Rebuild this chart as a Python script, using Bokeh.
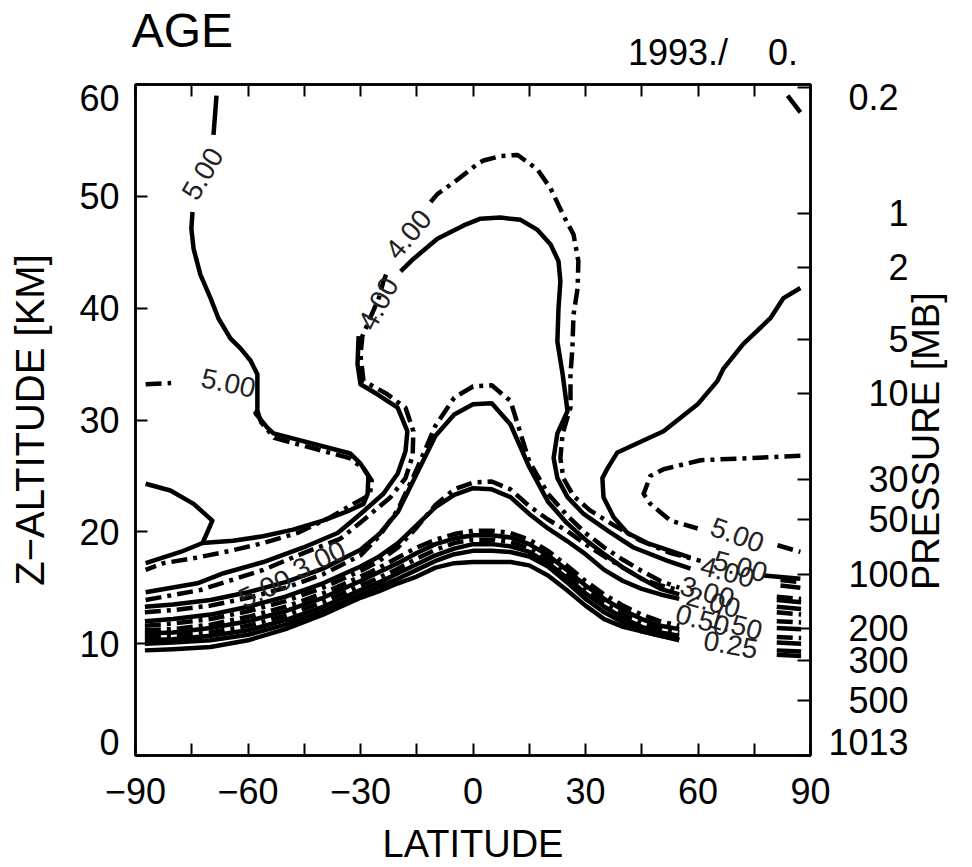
import math
from bokeh.plotting import figure
from bokeh.models import LinearAxis, FixedTicker, Range1d, ColumnDataSource
from bokeh.core.properties import value
from bokeh.embed import file_html
from bokeh.resources import INLINE

NaN = float("nan")
FONT = "Liberation Sans"
FIG_SPACE = "\u2007"
NBSP = "\u00a0"

# ---------------- axes / ticks ----------------
LAT_TICKS = list(range(-90, 91, 15))
LAT_LABELS = {-90: "−90", -60: "−60", -30: "−30", 0: "0", 30: "30", 60: "60", 90: "90"}
ALT_TICKS = [0, 10, 20, 30, 40, 50, 60]
P_LEVELS = [0.2, 1, 2, 5, 10, 30, 50, 100, 200, 300, 500, 1013]
P_LABELS = ["0.2", "1", "2", "5", "10", "30", "50", "100", "200", "300", "500", "1013"]
SCALE_HEIGHT = 7.0   # km
P_SURFACE = 1013.0   # mb
LABEL_INSET = 1.2    # km, end labels sit inside the frame height
TITLE = "AGE"
TITLE_LAT = -77.5
DATE = "1993./" + NBSP * 4 + "0."
DATE_LAT = 64.0
ALT_TITLE = "Z−ALTITUDE" + NBSP + "[KM]"
P_TITLE = "PRESSURE [MB]"
P_TITLE_START = 14.8   # km, where the (bottom-to-top) right title starts

# ---------------- contour lines (lat, km) ----------------
GRID_LAT = [-87.5, -80, -70, -60, -50, -40, -30, -25, -20, -15, -10, -5, 0, 5, 10,
            15, 20, 25, 30, 35, 40, 45, 50, 55, 65, 81, 87.5]
S3_ALT = [13.3, 13.5, 13.9, 14.6, 15.5, 16.7, 18.4, 19.8, 21.8, 25.2, 28.6, 30.5, 31.4, 31.5, 29.6,
          25.8, 22.7, 20.8, 19.3, 18.0, 16.8, 15.8, 14.9, 14.4, NaN, 13.9, 13.7]
D3_ALT = [12.8, 13.0, 13.4, 14.1, 15.0, 16.2, 17.9, 19.6, 22.0, 25.6, 29.5, 32.0, 33.0, 33.1, 31.7,
          26.3, 23.4, 21.5, 19.9, 18.6, 17.5, 16.5, 15.6, 15.0, NaN, 14.2, 14.0]
S2_ALT = [12.0, 12.2, 12.6, 13.3, 14.2, 15.4, 16.9, 17.8, 19.0, 20.6, 22.2, 23.3, 23.9, 23.8, 23.1,
          21.6, 20.3, 19.2, 18.0, 16.6, 15.6, 14.9, 14.4, 14.0, NaN, 13.3, 13.1]
D2_ALT = [11.6, 11.8, 12.2, 12.9, 13.8, 15.0, 16.5, 17.4, 18.6, 20.4, 22.4, 23.8, 24.4, 24.5, 23.8,
          22.3, 21.1, 20.1, 18.9, 17.8, 16.8, 15.8, 15.2, 14.8, NaN, 12.8, 12.6]
B1_ALT = [11.2, 11.3, 11.7, 12.4, 13.3, 14.5, 16.0, 16.8, 17.7, 18.6, 19.3, 19.8, 20.1, 20.1, 19.9,
          19.3, 18.3, 17.0, 15.6, 14.4, 13.4, 12.6, 12.0, 11.6, NaN, 12.0, 11.9]
B2_ALT = [10.9, 11.0, 11.4, 12.0, 12.9, 14.1, 15.6, 16.4, 17.2, 18.1, 18.9, 19.4, 19.7, 19.7, 19.5,
          18.9, 17.9, 16.6, 15.2, 14.0, 13.0, 12.2, 11.6, 11.3, NaN, 11.4, 11.3]
B3_ALT = [10.6, 10.7, 11.0, 11.6, 12.5, 13.7, 15.2, 15.9, 16.7, 17.6, 18.4, 19.0, 19.3, 19.3, 19.1,
          18.5, 17.5, 16.2, 14.8, 13.6, 12.6, 11.8, 11.3, 11.0, NaN, 10.6, 10.5]
B4_ALT = [10.3, 10.4, 10.7, 11.2, 12.1, 13.3, 14.8, 15.5, 16.3, 17.1, 17.9, 18.5, 18.9, 18.9, 18.7,
          18.2, 17.2, 15.9, 14.5, 13.3, 12.3, 11.5, 11.0, 10.7, NaN, 10.1, 10.0]
B5_ALT = [10.0, 10.1, 10.3, 10.8, 11.7, 12.9, 14.4, 15.1, 15.8, 16.6, 17.4, 18.0, 18.3, 18.3, 18.2,
          17.8, 16.9, 15.5, 14.0, 12.8, 11.9, 11.1, 10.7, 10.4, NaN, 9.4, 9.3]
B6_ALT = [9.4, 9.5, 9.7, 10.3, 11.3, 12.6, 14.1, 14.7, 15.4, 16.0, 16.8, 17.2, 17.3, 17.3, 17.3,
          17.0, 16.1, 14.8, 13.4, 12.2, 11.5, 11.1, 10.7, 10.3, NaN, 9.0, 8.9]

S5_LAT = [-68.4, -69.2, NaN, -74.8, -75.1, -74.5, -72.7, -70.0, -67.9, -64.7, -62.0, -59.3, -57.5,
          -57.5, -58.0, -54.8, -53.2, -32.7, -30.0, -27.9, -28.1, -29.2, -33.0, -40.0, -48.0,
          -56.0, -64.0, -72.1, -78.0, -87.3]
S5_ALT = [59.0, 55.5, NaN, 48.6, 47.1, 45.3, 43.0, 40.9, 39.1, 37.3, 36.4, 35.3, 34.1,
          30.8, 30.6, 29.3, 28.8, 27.0, 26.1, 25.0, 23.4, 22.5, 21.9, 21.0, 20.2,
          19.6, 19.2, 19.0, 18.2, 17.2]
TONGUE_LAT = [-87.3, -80.7, -74.5, -69.5, -72.1]
TONGUE_ALT = [24.3, 23.7, 22.5, 21.0, 19.0]
D5_LAT = [-87.3, -80.5, NaN, -57.5, -56.5, -53.0, -33.0, -29.0, -27.0, -27.5, -31.9, -38.0, -46.8,
          -55.9, -64.7, -73.5, -82.5, -87.3]
D5_ALT = [33.2, 33.3, NaN, 30.8, 29.8, 28.4, 26.6, 25.6, 24.6, 23.3, 22.5, 21.3, 19.9,
          19.0, 18.3, 17.7, 17.2, 16.6]
S4_LAT = [-87.3, -73.5, -66.5, -55.9, -45.2, -36.1, -30.0, -23.9, -20.1, -18.0, -17.5, -20.1, -25.5,
          -30.0, -30.8, -30.5, NaN, -19.3, -15.9, -9.5, -2.5, 2.0, 7.3, 12.7, 17.2, 20.7, 22.8,
          23.3, 22.8, 22.5, 23.9, 25.2, 22.5, 21.5, 22.5, 25.2, 29.5, 35.9, 42.8, 51.9, 58.0, NaN,
          82.0, 87.3]
S4_ALT = [14.6, 15.4, 16.3, 17.3, 18.6, 19.9, 21.6, 23.4, 25.2, 27.2, 29.0, 31.1, 32.3,
          33.2, 35.0, 37.5, NaN, 43.3, 44.4, 46.2, 47.4, 48.0, 48.1, 47.9, 47.0, 45.7, 44.2,
          42.4, 40.0, 37.0, 34.1, 30.8, 28.8, 26.6, 24.8, 23.1, 21.6, 20.1, 18.6, 17.4, 16.7, NaN,
          15.2, 15.0]
D4_LAT = [-87.3, -72.7, -55.9, -45.2, -35.3, -28.7, -22.0, -18.0, -16.1, -15.9, -18.0, -23.3, -29.2,
          -30.0, -29.5, -25.0, -23.9, -22.8, NaN, -11.3, -9.5, -4.1, 1.2, 2.8, 7.3, 11.9, 17.2,
          20.7, 24.1, 26.8, 28.1, 27.9, 26.8, 26.5, 26.0, 26.0, 23.9, 23.3, 24.1, 26.8, 31.3,
          37.5, 44.7, 52.7, 60.7, NaN, 82.0, 87.3]
D4_ALT = [13.9, 14.8, 16.6, 18.1, 19.4, 21.2, 23.1, 24.8, 26.8, 29.0, 31.1, 32.4, 33.5,
          35.8, 37.5, 41.0, 42.4, 43.3, NaN, 49.5, 50.2, 51.5, 52.9, 53.2, 53.6, 53.7, 52.4,
          50.7, 48.3, 46.6, 44.2, 41.8, 39.4, 36.4, 34.1, 31.1, 28.8, 26.6, 24.8, 23.2, 21.9,
          20.6, 19.2, 18.1, 17.4, NaN, 15.7, 15.5]
S5N_LAT = [87.3, 82.8, 79.3, 72.1, 66.8, 65.2, 59.9, 50.8, 38.5, 35.9, 34.5, 34.8, 37.5, 41.2, 46.5,
           58.0, NaN, 77.5, 87.3]
S5N_ALT = [41.8, 40.9, 39.1, 36.8, 34.6, 33.5, 31.4, 29.0, 27.1, 25.7, 24.8, 23.1, 21.3, 19.9, 19.0,
           17.7, NaN, 16.1, 15.8]
D5N_LAT = [87.3, 74.0, 60.7, 50.8, 47.3, 45.5, 47.3, 52.7, 59.9, NaN, 81.2, 87.3]
D5N_ALT = [26.8, 26.6, 26.4, 25.6, 25.0, 23.4, 22.5, 21.0, 20.3, NaN, 18.8, 18.2]
TOP_LAT = [83.9, 87.3]
TOP_ALT = [59.0, 57.5]

CL_TEXT = ["5.00", "4.00", "4.00", "5.00", "5.00", "4.00", "5.00", "3.00", "2.00", "1.50", "0.50",
           "0.25", "5.00", "3.00"]
CL_LAT = [-72.1, -17.2, -25.2, -65.2, 70.5, 67.9, 71.3, 62.5, 64.1, 70.0, 61.2, 68.7, -55.5, -41.0]
CL_ALT = [52.0, 46.6, 40.4, 33.3, 19.7, 16.4, 16.9, 14.6, 13.7, 11.7, 12.1, 9.9, 14.9, 17.5]
CL_ANGLE = [60, 50, 62, -12, -20, -15, -15, -15, -15, -15, -15, -10, 25, 25]

# ---------------- figure ----------------
p = figure(width=972, height=867, x_range=Range1d(-90, 90), y_range=Range1d(0, 60),
           output_backend="svg", toolbar_location=None, title=None,
           min_border_left=135, min_border_right=162, min_border_top=82, min_border_bottom=111)
p.grid.visible = False
p.outline_line_color = "black"
p.outline_line_width = 2.5

TICK_FONT = "36px"


def style_axis(ax, size=TICK_FONT):
    ax.major_tick_in = 12
    ax.major_tick_out = 0
    ax.minor_tick_line_color = None
    ax.major_tick_line_width = 2
    ax.major_tick_line_color = "black"
    ax.axis_line_width = 2.5
    ax.axis_line_color = "black"
    ax.major_label_text_font = FONT
    ax.major_label_text_font_size = size
    ax.major_label_text_color = "black"
    ax.axis_label_text_font = FONT
    ax.axis_label_text_font_size = "38px"
    ax.axis_label_text_font_style = "normal"
    ax.axis_label_text_color = "black"


def label_only(ax):
    ax.major_tick_line_color = None
    ax.minor_tick_line_color = None
    ax.axis_line_color = None


def ticks_only(ax):
    ax.major_label_text_font_size = "0px"
    ax.major_label_standoff = 0


# bottom: latitude
xa = p.xaxis[0]
xa.ticker = FixedTicker(ticks=LAT_TICKS)
xa.major_label_overrides = {t: LAT_LABELS.get(t, "") for t in LAT_TICKS}
xa.axis_label = "LATITUDE"
style_axis(xa)
xa.major_label_standoff = 22
xa.axis_label_standoff = 16

# left: altitude tick marks, then labels (end labels kept inside the frame height) + title
ya = p.yaxis[0]
ya.ticker = FixedTicker(ticks=ALT_TICKS)
ya.major_label_overrides = {t: "" for t in ALT_TICKS}
style_axis(ya)
ticks_only(ya)

alt_lab_pos = [min(max(t, ALT_TICKS[0] + LABEL_INSET), ALT_TICKS[-1] - LABEL_INSET) for t in ALT_TICKS]
ya_lab = LinearAxis(ticker=FixedTicker(ticks=alt_lab_pos),
                    major_label_overrides={pos: str(t) for pos, t in zip(alt_lab_pos, ALT_TICKS)},
                    axis_label=ALT_TITLE)
style_axis(ya_lab)
label_only(ya_lab)
ya_lab.major_label_standoff = 16
ya_lab.axis_label_standoff = 24
ya_lab.axis_label_text_font_size = "40px"
p.add_layout(ya_lab, "left")

# right: pressure tick marks, labels, and the title (bottom-to-top, starting at P_TITLE_START)
p_alt = [SCALE_HEIGHT * math.log(P_SURFACE / pl) for pl in P_LEVELS]
right = LinearAxis(ticker=FixedTicker(ticks=p_alt),
                   major_label_overrides={z: "" for z in p_alt})
style_axis(right)
right.major_tick_in = 13
ticks_only(right)
p.add_layout(right, "right")

p_lab_pos = [min(max(z, ALT_TICKS[0] + LABEL_INSET), ALT_TICKS[-1] - LABEL_INSET) for z in p_alt]
n_cols = max(sum(c.isdigit() for c in s) for s in P_LABELS)
p_lab_text = [FIG_SPACE * (n_cols - sum(c.isdigit() for c in s) - (1 if "." in s else 0)) + s
              for s in P_LABELS]
right_lab = LinearAxis(ticker=FixedTicker(ticks=p_lab_pos),
                       major_label_overrides=dict(zip(p_lab_pos, p_lab_text)))
style_axis(right_lab)
label_only(right_lab)
right_lab.major_label_standoff = 18
p.add_layout(right_lab, "right")

p_title_ax = LinearAxis(ticker=FixedTicker(ticks=[P_TITLE_START]),
                        major_label_overrides={P_TITLE_START: P_TITLE})
style_axis(p_title_ax, "38px")
label_only(p_title_ax)
p_title_ax.major_label_orientation = math.pi / 2
p_title_ax.major_label_text_baseline = "top"
p_title_ax.major_label_standoff = 15
p.add_layout(p_title_ax, "right")

# top: tick marks, then date and title
top = LinearAxis(ticker=FixedTicker(ticks=LAT_TICKS),
                 major_label_overrides={t: "" for t in LAT_TICKS})
style_axis(top)
ticks_only(top)
p.add_layout(top, "above")

date_ax = LinearAxis(ticker=FixedTicker(ticks=[DATE_LAT]), major_label_overrides={DATE_LAT: DATE})
style_axis(date_ax, "36px")
label_only(date_ax)
date_ax.major_label_standoff = 12
p.add_layout(date_ax, "above")

title_ax = LinearAxis(ticker=FixedTicker(ticks=[TITLE_LAT]), major_label_overrides={TITLE_LAT: TITLE})
style_axis(title_ax, "48px")
label_only(title_ax)
title_ax.major_label_standoff = -28
p.add_layout(title_ax, "above")

# ---------------- contours ----------------
SOLID = dict(line_color="black", line_width=4.5, line_join="round")
DASHDOT = dict(line_color="black", line_width=4.5, line_dash="16 6 4 6", line_join="round")

for alt, style in [(S3_ALT, SOLID), (D3_ALT, DASHDOT), (S2_ALT, SOLID), (D2_ALT, DASHDOT),
                   (B1_ALT, DASHDOT), (B2_ALT, SOLID), (B3_ALT, DASHDOT), (B4_ALT, SOLID),
                   (B5_ALT, SOLID), (B6_ALT, SOLID)]:
    p.line(GRID_LAT, alt, **style)

for lat, alt, style in [(S5_LAT, S5_ALT, SOLID), (TONGUE_LAT, TONGUE_ALT, SOLID),
                        (D5_LAT, D5_ALT, DASHDOT), (S4_LAT, S4_ALT, SOLID),
                        (D4_LAT, D4_ALT, DASHDOT), (S5N_LAT, S5N_ALT, SOLID),
                        (D5N_LAT, D5N_ALT, DASHDOT), (TOP_LAT, TOP_ALT, SOLID)]:
    p.line(lat, alt, **style)

cl_src = ColumnDataSource(dict(x=CL_LAT, y=CL_ALT, text=CL_TEXT, angle=CL_ANGLE))
p.text(x="x", y="y", text="text", angle="angle", angle_units="deg", source=cl_src,
       text_font=value(FONT), text_font_size=value("28px"), text_color="#222222",
       text_align="center", text_baseline="middle")

open("out.html", "w").write(file_html(p, INLINE))
